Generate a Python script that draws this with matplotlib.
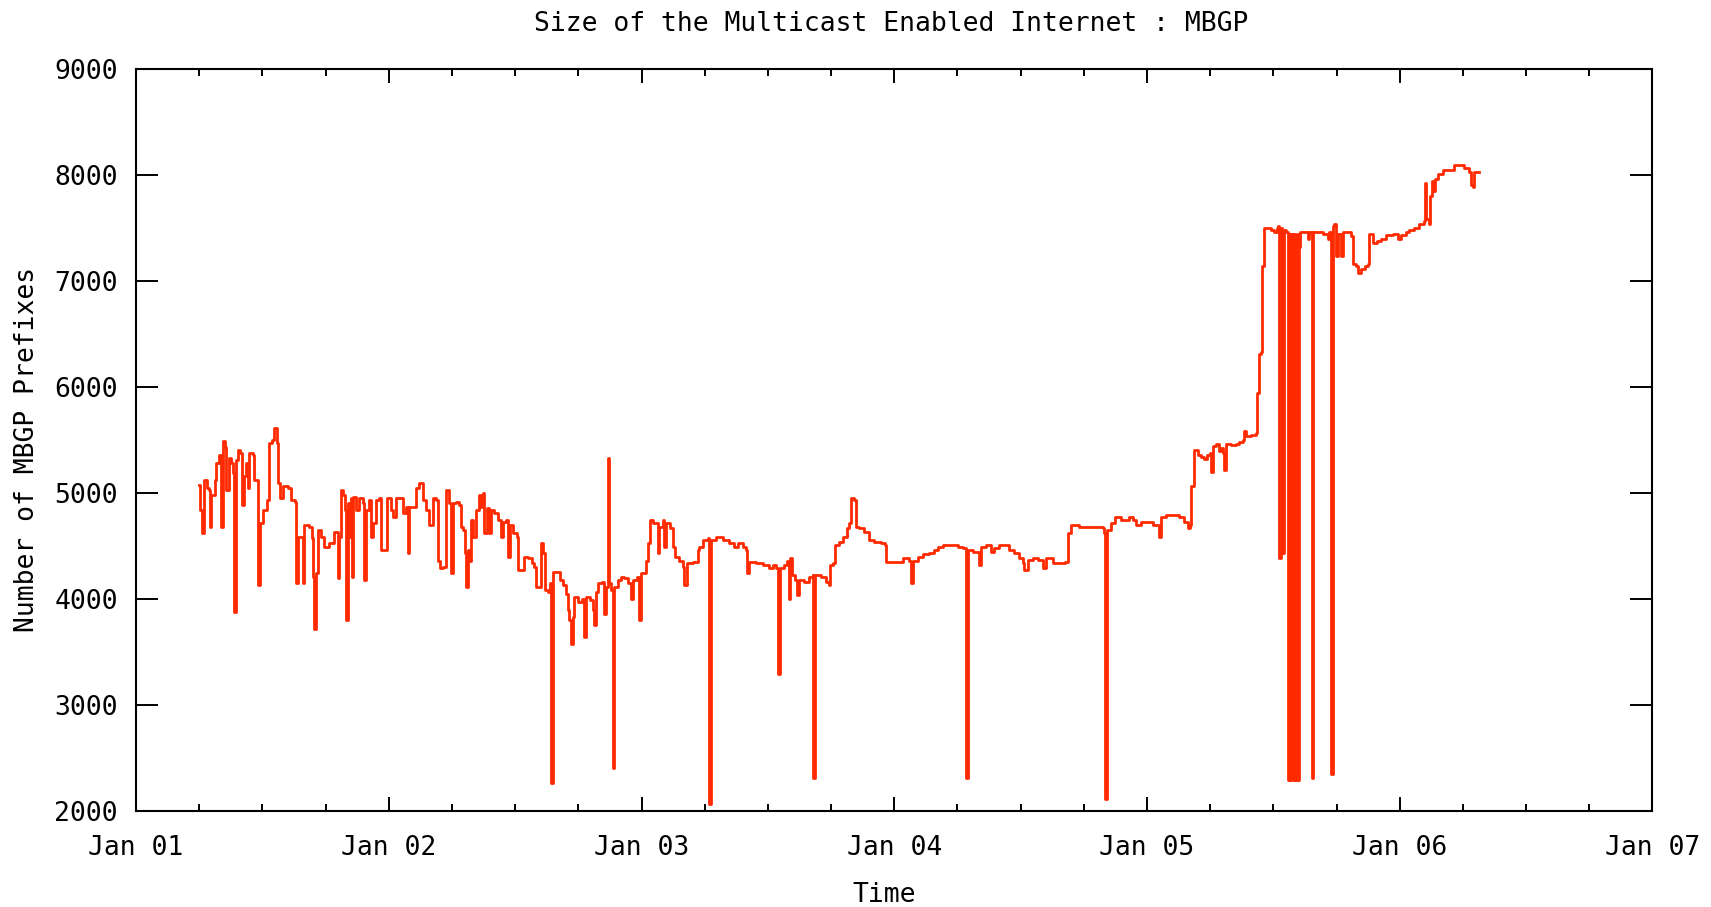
# Size of the multicast enabled internet (MBGP prefixes), gnuplot-style line chart
import matplotlib.pyplot as plt
from matplotlib.ticker import FixedLocator, FuncFormatter, MultipleLocator

plt.rcParams['font.family'] = 'DejaVu Sans Mono'
plt.rcParams['font.size'] = 19

# time in decimal years, number of MBGP prefixes
years = [
    2001.2485, 2001.2538, 2001.2617, 2001.2709, 2001.2802, 2001.2907, 2001.2934, 2001.2986,
    2001.3105, 2001.3171, 2001.3276, 2001.3369, 2001.3435, 2001.3527, 2001.3567, 2001.3672,
    2001.3764, 2001.3830, 2001.3896, 2001.3962, 2001.4054, 2001.4120, 2001.4199, 2001.4265,
    2001.4358, 2001.4424, 2001.4489, 2001.4621, 2001.4687, 2001.4819, 2001.4845, 2001.4911,
    2001.5017, 2001.5175, 2001.5254, 2001.5386, 2001.5478, 2001.5571, 2001.5636, 2001.5702,
    2001.5808, 2001.6006, 2001.6138, 2001.6309, 2001.6349, 2001.6415, 2001.6534, 2001.6600,
    2001.6665, 2001.6863, 2001.6955, 2001.6995, 2001.7061, 2001.7127, 2001.7206, 2001.7324,
    2001.7456, 2001.7654, 2001.7852, 2001.7984, 2001.8050, 2001.8116, 2001.8208, 2001.8274,
    2001.8314, 2001.8380, 2001.8445, 2001.8511, 2001.8551, 2001.8604, 2001.8709, 2001.8841,
    2001.8973, 2001.9039, 2001.9105, 2001.9237, 2001.9303, 2001.9395, 2001.9500, 2001.9632,
    2001.9698, 2001.9896, 2001.9935, 2002.0094, 2002.0186, 2002.0291, 2002.0489, 2002.0582,
    2002.0687, 2002.0753, 2002.0819, 2002.0977, 2002.1083, 2002.1215, 2002.1347, 2002.1478,
    2002.1610, 2002.1742, 2002.1874, 2002.1940, 2002.2032, 2002.2137, 2002.2269,
    2002.2402, 2002.2468, 2002.2533, 2002.2665, 2002.2797, 2002.2863, 2002.2955, 2002.3021,
    2002.3061, 2002.3127, 2002.3193, 2002.3259, 2002.3351, 2002.3456, 2002.3562, 2002.3654,
    2002.3720, 2002.3786, 2002.3878, 2002.3984, 2002.4050, 2002.4182, 2002.4314, 2002.4445,
    2002.4538, 2002.4643, 2002.4709, 2002.4802, 2002.4934, 2002.5065, 2002.5131, 2002.5276,
    2002.5368, 2002.5500, 2002.5672, 2002.5764, 2002.5830, 2002.5962, 2002.6028, 2002.6120,
    2002.6199, 2002.6305, 2002.6384, 2002.6437, 2002.6489, 2002.6687, 2002.6779, 2002.6911,
    2002.7017, 2002.7083, 2002.7148, 2002.7214, 2002.7280, 2002.7346, 2002.7478, 2002.7650,
    2002.7742, 2002.7808, 2002.7966, 2002.8098, 2002.8138, 2002.8204, 2002.8296, 2002.8441,
    2002.8533, 2002.8599, 2002.8665, 2002.8705, 2002.8797, 2002.8863, 2002.8916, 2002.9061,
    2002.9193, 2002.9325, 2002.9456, 2002.9588, 2002.9654, 2002.9813, 2002.9918, 2002.9984,
    2003.0115, 2003.0182, 2003.0248, 2003.0340, 2003.0472, 2003.0577, 2003.0643, 2003.0709,
    2003.0841, 2003.0907, 2003.0973, 2003.1131, 2003.1236, 2003.1342, 2003.1500, 2003.1632,
    2003.1698, 2003.1790, 2003.2027, 2003.2225,
    2003.2291, 2003.2422, 2003.2620, 2003.2686, 2003.2752, 2003.2950, 2003.3214, 2003.3477,
    2003.3675, 2003.3807, 2003.4005, 2003.4137, 2003.4163, 2003.4268, 2003.4532, 2003.4796,
    2003.5060, 2003.5192, 2003.5323, 2003.5402, 2003.5482, 2003.5653, 2003.5745, 2003.5824,
    2003.5890, 2003.5956, 2003.6088, 2003.6154, 2003.6247, 2003.6444, 2003.6642, 2003.6774,
    2003.6800, 2003.6853, 2003.7104, 2003.7302, 2003.7407, 2003.7460, 2003.7592, 2003.7671,
    2003.7829, 2003.7987, 2003.8119, 2003.8224, 2003.8290, 2003.8422, 2003.8488, 2003.8620,
    2003.8818, 2003.9015, 2003.9213, 2003.9477, 2003.9648, 2003.9675, 2003.9873, 2004.0070,
    2004.0334, 2004.0598, 2004.0664, 2004.0730, 2004.0927, 2004.1125, 2004.1389, 2004.1587,
    2004.1719, 2004.1917, 2004.2115,
    2004.2311, 2004.2509, 2004.2707, 2004.2839, 2004.2905, 2004.3103, 2004.3300, 2004.3366,
    2004.3432, 2004.3630, 2004.3828, 2004.3960, 2004.4157, 2004.4355, 2004.4553, 2004.4751,
    2004.4949, 2004.5081, 2004.5146, 2004.5278, 2004.5476, 2004.5674, 2004.5872, 2004.6004,
    2004.6267, 2004.6597, 2004.6768, 2004.6861, 2004.6992, 2004.7322, 2004.7718, 2004.8047,
    2004.8245, 2004.8311, 2004.8351, 2004.8403, 2004.8575, 2004.8746, 2004.8970, 2004.9168,
    2004.9300, 2004.9432, 2004.9564, 2004.9762, 2004.9960, 2005.0223, 2005.0421, 2005.0487,
    2005.0553, 2005.0751, 2005.1014, 2005.1278, 2005.1476, 2005.1608, 2005.1700, 2005.1753,
    2005.1871,
    2005.2003, 2005.2135, 2005.2267, 2005.2359, 2005.2491, 2005.2531, 2005.2597, 2005.2728,
    2005.2860, 2005.2926, 2005.2992, 2005.3058, 2005.3124, 2005.3322, 2005.3520, 2005.3651,
    2005.3783, 2005.3849, 2005.3915, 2005.4113, 2005.4311, 2005.4350, 2005.4416, 2005.4442,
    2005.4509, 2005.4548, 2005.4601, 2005.4641, 2005.4772, 2005.4904, 2005.5036, 2005.5128,
    2005.5194, 2005.5234, 2005.5287, 2005.5353, 2005.5418, 2005.5497, 2005.5563, 2005.5603,
    2005.5656, 2005.5709, 2005.5761, 2005.5814, 2005.5867, 2005.5920, 2005.5959, 2005.5999,
    2005.6051, 2005.6223, 2005.6355, 2005.6420, 2005.6526, 2005.6579, 2005.6816, 2005.6974,
    2005.7146, 2005.7212, 2005.7278, 2005.7344, 2005.7409, 2005.7475, 2005.7541, 2005.7673,
    2005.7739, 2005.7937, 2005.8069, 2005.8135, 2005.8267, 2005.8333, 2005.8465, 2005.8636,
    2005.8741, 2005.8794, 2005.8926, 2005.9084, 2005.9255, 2005.9453, 2005.9717, 2005.9915,
    2006.0047, 2006.0245, 2006.0376, 2006.0574, 2006.0772, 2006.0944, 2006.0983, 2006.1036,
    2006.1141, 2006.1194, 2006.1260, 2006.1326, 2006.1392, 2006.1497, 2006.1695, 2006.2025,
    2006.2156, 2006.2354, 2006.2552, 2006.2723, 2006.2816, 2006.2882, 2006.2948, 2006.3145,
]

prefixes = [
    5078, 4841, 4620, 5125, 5046, 5030, 4683, 4983,
    5125, 5283, 5362, 4683, 5488, 5435, 5030, 5330,
    5283, 5188, 3878, 5314, 5409, 5378, 4888, 5157,
    5283, 5046, 5378, 5362, 5125, 5125, 4131, 4715,
    4841, 4936, 5472, 5504, 5614, 5472, 5093, 4951,
    5062, 5046, 4936, 4920, 4147, 4588, 4588, 4147,
    4699, 4683, 4573, 4210, 3720, 4241, 4651, 4588,
    4494, 4525, 4636, 4194, 4588, 5030, 4983, 4841,
    3799, 4904, 4588, 4951, 4210, 4967, 4841, 4951,
    4904, 4178, 4841, 4936, 4588, 4715, 4936, 4951,
    4462, 4462, 4951, 4841, 4778, 4951, 4951, 4809,
    4872, 4431, 4872, 4872, 5046, 5093, 4936, 4841,
    4699, 4951, 4936, 4360, 4289, 4304, 5030,
    4904, 4241, 4904, 4920, 4888, 4683, 4651, 4431,
    4115, 4462, 4360, 4746, 4588, 4841, 4983, 4872,
    4999, 4620, 4857, 4620, 4841, 4809, 4746, 4588,
    4730, 4746, 4399, 4699, 4620, 4588, 4273, 4273,
    4399, 4384, 4336, 4304, 4115, 4115, 4525, 4431,
    4083, 4068, 4147, 2268, 4257, 4257, 4178, 4131,
    4052, 3894, 3799, 3578, 3831, 4020, 3973, 4004,
    3641, 4020, 3989, 3894, 3752, 4068, 4147, 4162,
    3862, 4115, 5330, 4147, 4083, 2410, 4115, 4178,
    4210, 4194, 4147, 4004, 4178, 4210, 3799, 4241,
    4241, 4360, 4525, 4746, 4715, 4715, 4431, 4683,
    4746, 4494, 4715, 4667, 4494, 4399, 4360, 4304,
    4131, 4336, 4352, 4462,
    4494, 4557, 4573, 2063, 4557, 4588, 4557, 4525,
    4494, 4525, 4494, 4462, 4241, 4352, 4336, 4320,
    4289, 4320, 4289, 3294, 4289, 4320, 4360, 4004,
    4384, 4226, 4178, 4036, 4178, 4162, 4210, 4226,
    2316, 4226, 4210, 4162, 4131, 4320, 4336, 4510,
    4541, 4588, 4667, 4715, 4951, 4936, 4683, 4667,
    4636, 4557, 4541, 4525, 4510, 4352, 4352, 4352,
    4384, 4360, 4147, 4360, 4399, 4424, 4431, 4462,
    4494, 4510, 4510,
    4510, 4494, 4478, 2316, 4462, 4447, 4447, 4320,
    4494, 4510, 4447, 4478, 4510, 4510, 4462, 4431,
    4384, 4336, 4273, 4368, 4384, 4368, 4289, 4384,
    4342, 4342, 4352, 4620, 4699, 4683, 4683, 4683,
    4667, 4620, 2110, 4651, 4715, 4771, 4746, 4746,
    4771, 4746, 4699, 4730, 4730, 4699, 4699, 4588,
    4778, 4794, 4794, 4778, 4730, 4667, 4699, 5062,
    5409,
    5361, 5340, 5320, 5361, 5381, 5199, 5441, 5462,
    5401, 5421, 5381, 5219, 5462, 5454, 5462, 5482,
    5502, 5583, 5542, 5550, 5563, 5946, 5946, 6310,
    6330, 7138, 7138, 7502, 7502, 7482, 7461, 7502,
    7522, 4391, 7502, 4431, 7482, 7461, 2290, 7441,
    2290, 7441, 2290, 7441, 2290, 7441, 2290, 7320,
    7461, 7461, 7401, 7461, 2310, 7461, 7461, 7441,
    7401, 7461, 2351, 7522, 7542, 7239, 7441, 7239,
    7461, 7461, 7421, 7158, 7138, 7078, 7118, 7138,
    7158, 7441, 7360, 7380, 7401, 7433, 7441, 7401,
    7433, 7461, 7482, 7502, 7542, 7562, 7926, 7583,
    7542, 7805, 7946, 7845, 7966, 8007, 8047, 8047,
    8096, 8096, 8067, 8027, 7906, 7886, 8027, 8027,
]

year_ticks = [2001, 2002, 2003, 2004, 2005, 2006, 2007]

fig = plt.figure(figsize=(17.11, 9.07), dpi=100)
ax = fig.add_axes([0.0795, 0.1058, 0.8863, 0.8181])

# gnuplot draws the raw samples with lines, which looks like steps at this density
ax.plot(years, prefixes, color='#ff2a00', linewidth=2.0, drawstyle='steps-post')

ax.set_xlim(2001, 2007)
ax.set_ylim(2000, 9000)
ax.xaxis.set_major_locator(FixedLocator(year_ticks))
ax.xaxis.set_minor_locator(MultipleLocator(0.25))
ax.xaxis.set_major_formatter(FuncFormatter(lambda x, pos: 'Jan %02d' % (int(round(x)) % 100)))
ax.yaxis.set_major_locator(MultipleLocator(1000))

# inward ticks on all four sides, like gnuplot
ax.tick_params(which='both', direction='in', top=True, right=True, width=1.4, color='black')
ax.tick_params(axis='x', which='major', length=10, pad=17)
ax.tick_params(axis='x', which='minor', length=5)
ax.tick_params(axis='y', which='major', length=16, pad=13)

for spine in ax.spines.values():
    spine.set_linewidth(1.5)
    spine.set_color('black')

fig.text(0.5207, 0.9735, 'Size of the Multicast Enabled Internet : MBGP', ha='center', va='center')
fig.text(0.5167, 0.0130, 'Time', ha='center', va='center')
fig.text(0.0158, 0.505, 'Number of MBGP Prefixes', ha='center', va='center', rotation=90)

plt.savefig('out.png', dpi=100)
